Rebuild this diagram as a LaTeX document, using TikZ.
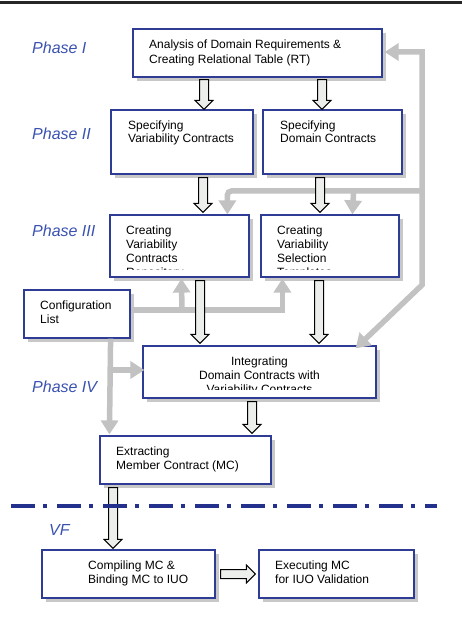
\documentclass[tikz,border=0pt]{standalone}
\usepackage{fontspec}
\setmainfont{Liberation Sans}
\usetikzlibrary{arrows.meta,calc,shadows}

\definecolor{boxblue}{HTML}{2F3C96}
\definecolor{phaseblue}{HTML}{3A52B0}
\definecolor{sepblue}{HTML}{23318C}
\definecolor{flowgray}{HTML}{C2C2C2}
\definecolor{shadegray}{HTML}{C8C8C8}
\definecolor{fatfill}{HTML}{ECEEEC}

\tikzset{
  blk/.style={draw=boxblue, line width=1.2pt, fill=white, inner sep=0pt,
    drop shadow={shadow xshift=4pt, shadow yshift=-4pt, fill=shadegray, opacity=1}},
  txt/.style={anchor=north west, inner sep=0pt, align=left,
    font=\fontsize{12}{14}\selectfont},
  phase/.style={anchor=north west, inner sep=0pt, text=phaseblue,
    font=\fontsize{16}{18}\selectfont\itshape},
  flow/.style={draw=flowgray, line width=5.5pt,
    -{Triangle[width=17pt,length=14pt]}},
  fat/.style={draw=black, line width=1pt, fill=fatfill, line join=miter},
}

% hollow block arrow from #1 to #2
\newcommand{\hollowarrow}[2]{%
  \coordinate (fa-s) at (#1);
  \coordinate (fa-e) at (#2);
  \coordinate (fa-h) at ($(fa-e)!9pt!(fa-s)$);
  \draw[fat] ($(fa-s)!4.5pt!90:(fa-e)$) -- ($(fa-h)!4.5pt!-90:(fa-s)$)
    -- ($(fa-h)!9pt!-90:(fa-s)$) -- (fa-e) -- ($(fa-h)!9pt!90:(fa-s)$)
    -- ($(fa-h)!4.5pt!90:(fa-s)$) -- ($(fa-s)!4.5pt!-90:(fa-e)$) -- cycle;}

\begin{document}
\begin{tikzpicture}[x=1pt,y=-1pt]
  \useasboundingbox (0,0) rectangle (462,620);

  % top rule
  \draw[line width=2.5pt, black!85] (0,2.5) -- (462,2.5);

  % phases
  \node[phase] (ph1) at (32,42) {Phase I};
  \node[phase] (ph2) at (32,128) {Phase II};
  \node[phase] (ph3) at (32,225) {Phase III};
  \node[phase] (ph4) at (32,381) {Phase IV};
  \node[phase] (phvf) at (49,524) {VF};

  % boxes
  \node[blk, minimum width=249, minimum height=48] (rt) at (257.5,53) {};
  \node[blk, minimum width=142, minimum height=64] (svc) at (182,142) {};
  \node[blk, minimum width=139, minimum height=64] (sdc) at (332.5,142) {};
  \node[blk, minimum width=139, minimum height=62] (cvcr) at (179.5,246) {};
  \node[blk, minimum width=138, minimum height=62] (cvst) at (330,246) {};
  \node[blk, minimum width=106, minimum height=48] (cfg) at (77,314) {};
  \node[blk, minimum width=233, minimum height=52] (integ) at (259.5,372) {};
  \node[blk, minimum width=171, minimum height=48] (mc) at (185.5,460) {};
  \node[blk, minimum width=173, minimum height=48] (comp) at (128.5,574) {};
  \node[blk, minimum width=155, minimum height=48] (exec) at (336.5,574) {};

  % texts
  \node[txt, font=\fontsize{12}{15}\selectfont] (rt-t) at (149,40)
    {Analysis of Domain Requirements \&\\Creating Relational Table (RT)};
  \node[txt, font=\fontsize{12}{13}\selectfont] (svc-t) at (128,121)
    {Specifying\\Variability Contracts};
  \node[txt, font=\fontsize{12}{13}\selectfont] (sdc-t) at (280,121)
    {Specifying\\Domain Contracts};
  \begin{scope}
    \clip (cvcr.north west) rectangle ($(cvcr.south east)+(0,-8)$);
    \node[txt] (cvcr-t) at (126,226)
      {Creating\\Variability\\Contracts\\Repository};
  \end{scope}
  \begin{scope}
    \clip (cvst.north west) rectangle ($(cvst.south east)+(0,-8)$);
    \node[txt] (cvst-t) at (277,226)
      {Creating\\Variability\\Selection\\Templates};
  \end{scope}
  \node[txt] (cfg-t) at (40,301) {Configuration\\List};
  \begin{scope}
    \clip (integ.north west) rectangle ($(integ.south east)+(0,-9)$);
    \node[txt, anchor=north, align=center] (integ-t) at (259.5,357)
      {Integrating\\Domain Contracts with\\Variability Contracts};
  \end{scope}
  \node[txt] (mc-t) at (116,447) {Extracting\\Member Contract (MC)};
  \node[txt, font=\fontsize{12}{13.5}\selectfont] (comp-t) at (88,561)
    {Compiling MC \&\\Binding MC to IUO};
  \node[txt, font=\fontsize{12}{13.5}\selectfont] (exec-t) at (275,561)
    {Executing MC\\for IUO Validation};

  % gray feedback and configuration flows
  \coordinate (fb) at (422,285);
  \coordinate (fbj) at (422,191);
  \coordinate (cfgj) at (182,310);
  \coordinate (cfgd) at (110,370);
  \draw[flow, {Triangle[width=17pt,length=14pt]}-{Triangle[width=17pt,length=14pt]}]
    ($(rt.east)+(2,-1)$) -| (fb) -- ($(integ.north east)+(-21,3)$);
  \draw[flow, rounded corners=4pt] (fbj) -| ($(cvcr.north west)+(118,0)$);
  \draw[flow] (fbj -| cvst.north east) ++(-46,0) -- ($(cvst.north west)+(92,0)$);
  \draw[flow] ($(cfg.east)+(0,-4)$) -| ($(cvst.south west)+(22,1)$);
  \draw[flow] (cfgj) -- ($(cvcr.south west)+(72,1)$);
  \draw[flow] ($(cfg.south east)+(-20,0)$) -- ($(mc.north west)+(10,-1)$);
  \draw[flow] (cfgd) -- ($(integ.west)+(2,-2)$);

  % hollow arrows
  \hollowarrow{$(rt.south)+(-53.5,2)$}{$(svc.north)+(22,0)$}
  \hollowarrow{$(rt.south)+(64.5,2)$}{$(sdc.north)+(-10.5,0)$}
  \hollowarrow{$(svc.south)+(21,3)$}{$(cvcr.north)+(23.5,-2)$}
  \hollowarrow{$(sdc.south)+(-12.5,3)$}{$(cvst.north)+(-10,-2)$}
  \hollowarrow{$(cvcr.south)+(20.5,3)$}{$(integ.north)+(-59.5,-2)$}
  \hollowarrow{$(cvst.south)+(-11,3)$}{$(integ.north)+(59.5,-2)$}
  \hollowarrow{$(integ.south)+(-7.5,3)$}{$(mc.north)+(66.5,-2)$}
  \hollowarrow{$(mc.south)+(-72.5,3)$}{$(comp.north)+(-15.5,-1)$}
  \hollowarrow{$(comp.east)+(5,0)$}{$(exec.west)+(-3,0)$}

  % separator of the verification framework
  \draw[sepblue, line width=3.5pt, dash pattern=on 24pt off 8pt on 4pt off 10pt]
    (11,506) -- (437,506);
\end{tikzpicture}
\end{document}
